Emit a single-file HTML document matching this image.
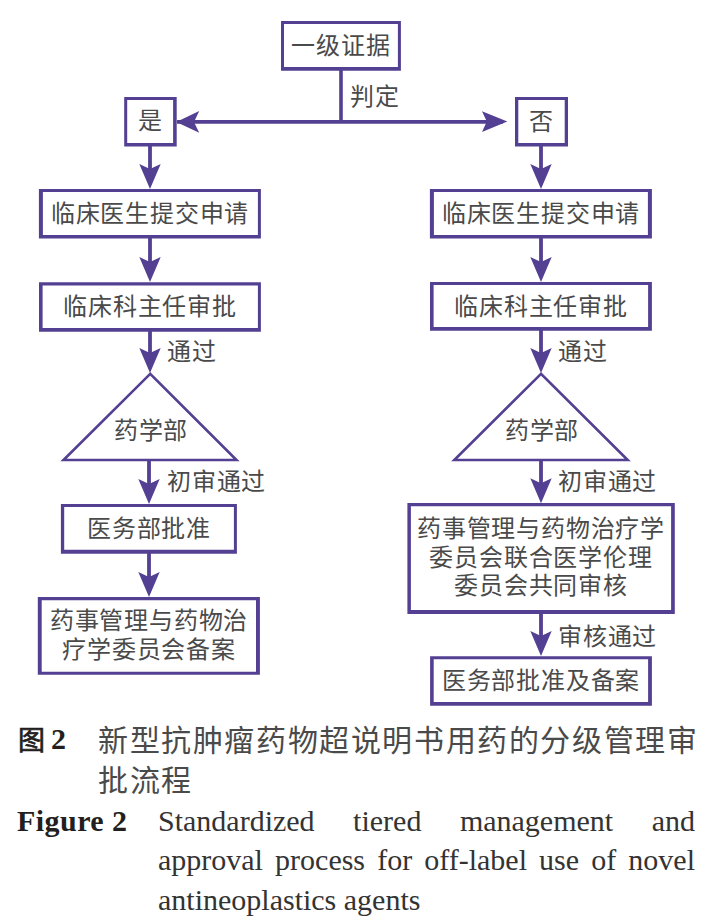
<!DOCTYPE html>
<html lang="zh-CN">
<head>
<meta charset="utf-8">
<style>
html,body{margin:0;padding:0;background:#fff;}
body{width:714px;height:924px;position:relative;overflow:hidden;font-family:"Liberation Serif",serif;color:#231f20;}
svg{position:absolute;left:0;top:0;}
.t{position:absolute;white-space:nowrap;font-size:24px;line-height:24px;letter-spacing:0.8px;color:#4a4a4a;}
.k{color:#231f20;}
.c{text-align:center;}
</style>
</head>
<body>
<svg width="714" height="924" viewBox="0 0 714 924">
<path fill="#544092" fill-rule="evenodd" d="M281,21H400.9V70.8H281Z M284,24V67.0H397.9V24Z M124.2,97.1H176.7V146.4H124.2Z M127.2,100.1V142.9H173.1V100.1Z M515,97.1H568V146.5H515Z M518.3,100.1V143.0H564.7V100.1Z M38.9,188.9H260.9V238.6H38.9Z M42.9,192.0V235.0H257.9V192.0Z M429.9,188.9H651.9V238.6H429.9Z M433.9,192.0V235.0H647.9V192.0Z M39,282.3H260.9V331.8H39Z M42.6,285.40000000000003V328.0H257.9V285.40000000000003Z M430,282H651.9V330.8H430Z M433.6,285.1V327.0H648.1V285.1Z M60.9,504H236.9V553.8H60.9Z M64.2,507.1V549.8H233.9V507.1Z M37.8,596.9H259.9V674.8H37.8Z M41.699999999999996,600.1999999999999V671.6999999999999H255.99999999999997V600.1999999999999Z M407.4,503.1H674.8V613.9H407.4Z M410.9,506.20000000000005V609.9H671.0999999999999V506.20000000000005Z M430.1,656.2H651.9V705.8H430.1Z M433.70000000000005,659.3000000000001V702.0H648.1V659.3000000000001Z"/>
<path fill="#544092" d="M339.2,70H342.8V123.5H339.2Z M177,120.0H503V123.80000000000001H177Z M148.1,146H151.9V175H148.1Z M539.1,146H542.9V175H539.1Z M148.1,238H151.9V268H148.1Z M539.1,238H542.9V268H539.1Z M148.1,331H151.9V358H148.1Z M539.1,330H542.9V358H539.1Z M147.1,460H150.9V490H147.1Z M539.1,460H542.9V490H539.1Z M147.1,553H150.9V583H147.1Z M539.1,613H542.9V642H539.1Z"/>
<path fill="#544092" d="M176.3,121.9L199.2,110.9L194,121.9L199.2,132.7Z M507.3,121.6L482,111.2L486.8,121.6L482,131.9Z M150,189L139.3,164L150,169L160.7,164Z M541,189L530.3,164L541,169L551.7,164Z M150,282L139.3,257L150,262L160.7,257Z M541,282L530.3,257L541,262L551.7,257Z M150,373L139.3,348L150,353L160.7,348Z M541,373L530.3,348L541,353L551.7,348Z M149,504L138.3,479L149,484L159.7,479Z M541,503.3L530.3,478.3L541,483.3L551.7,478.3Z M149,597L138.3,572L149,577L159.7,572Z M541,656L530.3,631L541,636L551.7,631Z"/>
<g fill="none" stroke="#544092" stroke-width="2.6" stroke-linejoin="miter" stroke-miterlimit="10">
<polygon points="150.2,373.8 63.5,460 236.5,460"/>
<polygon points="541,373.8 454.3,460 627.7,460"/>
</g>
</svg>

<!-- box texts -->
<div class="t c" style="left:282px;top:34px;width:118px;">一级证据</div>
<div class="t" style="left:350px;top:85px;">判定</div>
<div class="t c" style="left:124px;top:109px;width:52px;">是</div>
<div class="t c" style="left:515px;top:109.5px;width:52px;">否</div>

<div class="t c" style="left:39px;top:202px;width:222px;">临床医生提交申请</div>
<div class="t c" style="left:430px;top:202px;width:222px;">临床医生提交申请</div>
<div class="t c" style="left:39px;top:295px;width:222px;">临床科主任审批</div>
<div class="t c" style="left:430px;top:295px;width:222px;">临床科主任审批</div>

<div class="t" style="left:167px;top:340px;">通过</div>
<div class="t" style="left:558px;top:340px;">通过</div>
<div class="t c" style="left:51px;top:419px;width:200px;">药学部</div>
<div class="t c" style="left:442px;top:419px;width:200px;">药学部</div>
<div class="t" style="left:167px;top:470px;">初审通过</div>
<div class="t" style="left:558px;top:470px;">初审通过</div>

<div class="t c" style="left:61px;top:517px;width:176px;">医务部批准</div>
<div class="t c" style="left:38px;top:607px;width:222px;line-height:29px;">药事管理与药物治<br>疗学委员会备案</div>

<div class="t c" style="left:407px;top:515px;width:268px;line-height:28.7px;">药事管理与药物治疗学<br>委员会联合医学伦理<br>委员会共同审核</div>
<div class="t" style="left:558px;top:625px;">审核通过</div>
<div class="t c" style="left:430px;top:669px;width:222px;">医务部批准及备案</div>

<!-- caption -->
<div class="t k" style="left:18px;top:721.5px;font-size:27px;line-height:39px;font-weight:normal;-webkit-text-stroke:0.7px #231f20;letter-spacing:0;">图</div>
<div class="t k" style="left:51px;top:719px;font-size:30px;line-height:39px;font-weight:bold;letter-spacing:0;">2</div>
<div class="t" style="left:98px;top:721px;font-size:30px;line-height:40px;letter-spacing:1.6px;">新型抗肿瘤药物超说明书用药的分级管理审<br>批流程</div>
<div class="t k" style="left:17px;top:800.5px;font-size:30px;line-height:39.5px;font-weight:bold;letter-spacing:0.45px;">Figure 2</div>
<div class="t k" style="color:#333;left:158px;top:800.5px;font-size:30px;line-height:39.5px;width:537px;white-space:normal;letter-spacing:0;">
<div style="text-align:justify;text-align-last:justify;">Standardized tiered management and</div>
<div style="text-align:justify;text-align-last:justify;">approval process for off-label use of novel</div>
<div>antineoplastics agents</div>
</div>
</body>
</html>
